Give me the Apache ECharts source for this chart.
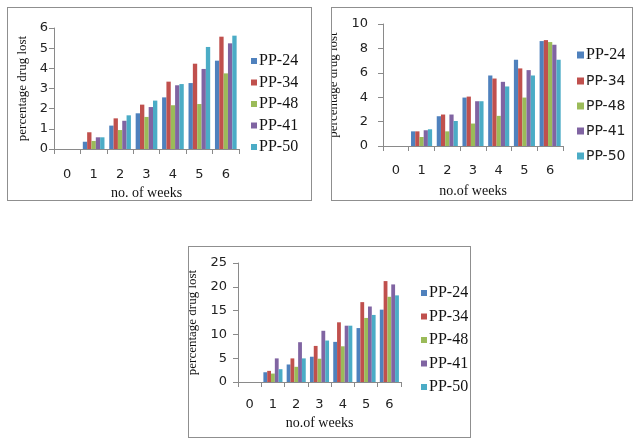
<!DOCTYPE html>
<html>
<head>
<meta charset="utf-8">
<script src="https://cdn.jsdelivr.net/npm/echarts@6/dist/echarts.min.js"></script>
<style>
  html, body { margin: 0; padding: 0; background: #fff; }
  body { width: 635px; height: 439px; position: relative; overflow: hidden; }
  .box { position: absolute; border: 1px solid #8f8f8f; box-sizing: border-box; }
</style>
</head>
<body>
<div id="c1" class="box" style="left:7px;top:7px;width:305px;height:194px"></div>
<div id="c2" class="box" style="left:331px;top:7px;width:302px;height:194px"></div>
<div id="c3" class="box" style="left:188px;top:246px;width:283px;height:192px"></div>
<script>
const weeks = ["0", "1", "2", "3", "4", "5", "6"];
const formulations = ["PP-24", "PP-34", "PP-48", "PP-41", "PP-50"];
const colors = ["#4f81bd", "#c0504d", "#9bbb59", "#8064a2", "#4bacc6"];

// percentage drug lost, one row per formulation (same order as above)
const lossChart1 = [
  [0, 0.36, 1.16, 1.77, 2.56, 3.27, 4.38],
  [0, 0.83, 1.52, 2.2, 3.34, 4.23, 5.57],
  [0, 0.4, 0.94, 1.59, 2.17, 2.23, 3.75],
  [0, 0.58, 1.4, 2.08, 3.16, 3.97, 5.24],
  [0, 0.58, 1.67, 2.4, 3.22, 5.06, 5.62],
];
const lossChart2 = [
  [0, 1.2, 2.44, 3.97, 5.78, 7.07, 8.6],
  [0, 1.2, 2.58, 4.05, 5.53, 6.36, 8.68],
  [0, 0.74, 1.2, 1.84, 2.47, 3.97, 8.52],
  [0, 1.29, 2.58, 3.67, 5.26, 6.22, 8.3],
  [0, 1.37, 2.05, 3.67, 4.88, 5.78, 7.07],
];
const lossChart3 = [
  [0, 2.05, 3.68, 5.31, 8.43, 11.33, 15.2],
  [0, 2.34, 4.96, 7.58, 12.54, 16.78, 21.2],
  [0, 1.77, 3.19, 4.89, 7.5, 13.46, 17.9],
  [0, 4.96, 8.36, 10.76, 11.83, 15.86, 20.5],
  [0, 2.69, 4.96, 8.71, 11.83, 14.09, 18.2],
];
const yMax = [6, 10, 25];
const yStep = [1, 2, 5];

const serif = "'Liberation Serif', 'Times New Roman', serif";
const sans = "'DejaVu Sans', Verdana, sans-serif";
const axisGray = "#8a8a8a";

function draw(id, values, idx, layout) {
  const chart = echarts.init(document.getElementById(id), null, { renderer: "canvas" });
  chart.setOption({
    animation: false,
    color: colors,
    grid: { ...layout.grid, outerBoundsMode: "none", containLabel: false },
    legend: {
      orient: "vertical",
      left: layout.legend.left,
      top: layout.legend.top,
      itemGap: layout.legend.gap,
      itemWidth: layout.legend.icon,
      itemHeight: layout.legend.icon,
      icon: "rect",
      selectedMode: false,
      textStyle: { fontFamily: serif, fontSize: 16, color: "#111", padding: [0, 0, 0, -3] },
      data: formulations.map((name, i) => layout.legend.sansAfterFirst && i > 0
        ? { name, textStyle: { fontFamily: sans, fontSize: 14, color: "#222" } }
        : { name }),
    },
    xAxis: {
      type: "category",
      data: weeks,
      name: layout.xName,
      nameLocation: "middle",
      nameGap: layout.xNameGap,
      nameTextStyle: { fontFamily: serif, fontSize: 14, color: "#111" },
      axisLine: { lineStyle: { color: axisGray } },
      axisTick: { show: true, length: 5, lineStyle: { color: axisGray } },
      axisLabel: { fontFamily: sans, fontSize: layout.tickFont, color: "#222", margin: layout.xLabelMargin },
    },
    yAxis: {
      type: "value",
      min: 0,
      max: yMax[idx],
      interval: yStep[idx],
      name: "percentage drug lost",
      nameLocation: "middle",
      nameRotate: 90,
      nameGap: layout.yNameGap,
      nameTextStyle: { fontFamily: serif, fontSize: 13, color: "#111" },
      axisLine: { show: true, lineStyle: { color: axisGray } },
      axisTick: { show: true, length: 5, lineStyle: { color: axisGray } },
      splitLine: { show: false },
      axisLabel: { fontFamily: sans, fontSize: layout.tickFont, color: "#222", margin: layout.yLabelMargin },
    },
    series: formulations.map((name, i) => ({
      name,
      type: "bar",
      data: values[i],
      barGap: "0%",
      barCategoryGap: "18%",
    })),
  });
}

draw("c1", lossChart1, 0, {
  grid: { left: 46, top: 20, width: 185, height: 121 },
  legend: { left: 238, top: 40, gap: 5.5, icon: 6, sansAfterFirst: false },
  xName: "no. of weeks", xNameGap: 33, xLabelMargin: 19, yLabelMargin: 6, yNameGap: 21, tickFont: 13,
});
draw("c2", lossChart2, 1, {
  grid: { left: 51, top: 16, width: 180, height: 122 },
  legend: { left: 240, top: 34, gap: 11, icon: 7, sansAfterFirst: true },
  xName: "no.of weeks", xNameGap: 38, xLabelMargin: 18, yLabelMargin: 15, yNameGap: 29, tickFont: 13,
});
draw("c3", lossChart3, 2, {
  grid: { left: 49, top: 16, width: 163, height: 119 },
  legend: { left: 227, top: 33, gap: 7.5, icon: 6, sansAfterFirst: false },
  xName: "no.of weeks", xNameGap: 28, xLabelMargin: 16, yLabelMargin: 11, yNameGap: 33, tickFont: 13,
});
</script>
</body>
</html>
